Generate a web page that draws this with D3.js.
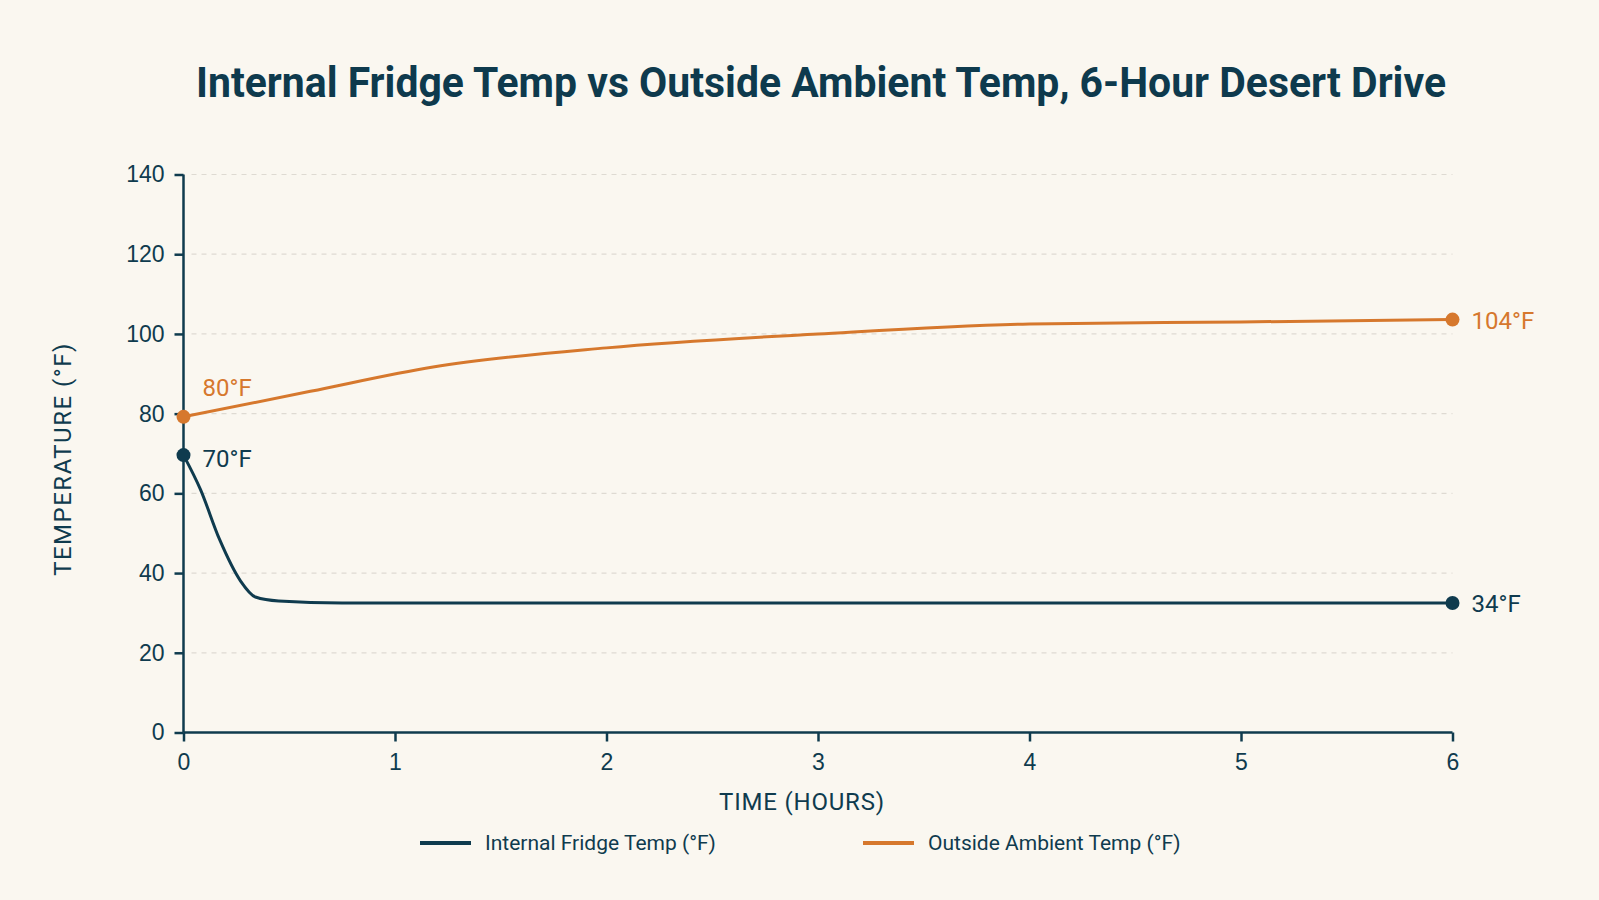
<html>
<head>
<script src="https://d3js.org/d3.v7.min.js"></script>
<style>
  body { margin: 0; background: #faf7f0; }
  svg { font-family: Roboto, "Noto Sans", sans-serif; }
</style>
</head>
<body>
<div id="chart"></div>
<script>
// data
var hours = [0, 1, 2, 3, 4, 5, 6];
var tempTicks = [0, 20, 40, 60, 80, 100, 120, 140];

var fridgeTime = [0, 0.08, 0.17, 0.27, 0.34, 0.45, 0.75, 6];
var fridgeTemp = [69.6, 61, 48.5, 38, 34, 33, 32.5, 32.5];

var ambientTime = [0, 0.6, 1.18, 2, 3, 4, 5, 6];
var ambientTemp = [79.2, 85.6, 91.7, 96.5, 100, 102.5, 103, 103.6];

var seriesNames = ["Internal Fridge Temp (°F)", "Outside Ambient Temp (°F)"];
var startLabels = ["70°F", "80°F"];
var endLabels = ["34°F", "104°F"];
var colors = ["#0f3b4e", "#d6782d"];

var width = 1599, height = 900;
var ink = "#0f3b4e";

var series = [
  {name: seriesNames[0], pts: fridgeTime.map((t, i) => ({t: t, v: fridgeTemp[i]}))},
  {name: seriesNames[1], pts: ambientTime.map((t, i) => ({t: t, v: ambientTemp[i]}))}
];

var x = d3.scaleLinear().domain([0, 6]).range([183.5, 1452.5]);
var y = d3.scaleLinear().domain([0, 140]).range([732.5, 174.5]);

var svg = d3.select("#chart").append("svg")
  .attr("width", width).attr("height", height)
  .style("background", "#faf7f0");

/* title - condensed look by squeezing to the measured width */
svg.append("text")
  .attr("x", 821).attr("y", 97)
  .attr("text-anchor", "middle")
  .attr("textLength", 1250)
  .attr("lengthAdjust", "spacingAndGlyphs")
  .style("font-weight", "bold")
  .style("font-size", "43px")
  .style("fill", "#0e3a4d")
  .text("Internal Fridge Temp vs Outside Ambient Temp, 6-Hour Desert Drive");

/* grid */
svg.append("g")
  .selectAll("line")
  .data(tempTicks.filter(d => d > 0)).enter()
  .append("line")
  .attr("x1", x(0) + 8).attr("x2", x(6))
  .attr("y1", d => y(d)).attr("y2", d => y(d))
  .style("stroke", "#dedad2")
  .style("stroke-width", 1.2)
  .style("stroke-dasharray", "5,5");

/* axes */
var yAxis = d3.axisLeft(y).tickValues(tempTicks).tickSize(9).tickPadding(10);
var xAxis = d3.axisBottom(x).tickValues(hours).tickFormat(d3.format("d")).tickSize(9).tickPadding(12);

var gy = svg.append("g").attr("transform", `translate(${x(0)},0)`).call(yAxis);
var gx = svg.append("g").attr("transform", `translate(0,${y(0)})`).call(xAxis);

[gx, gy].forEach(function(g) {
  g.select(".domain").style("stroke", ink).style("stroke-width", 2.5);
  g.selectAll(".tick line").style("stroke", ink).style("stroke-width", 2.5);
  g.selectAll(".tick text").style("fill", ink).style("font-size", "23px").style("font-weight", 500);
});
gy.select(".domain").attr("d", `M0,${y(0)}V${y(140)}`);
gx.select(".domain").attr("d", `M${x(0)},0H${x(6)}`);

/* axis titles */
svg.append("text")
  .attr("x", 802).attr("y", 810)
  .attr("text-anchor", "middle")
  .style("font-size", "24px")
  .style("letter-spacing", "0.8px")
  .style("fill", ink)
  .text("TIME (HOURS)");

svg.append("text")
  .attr("transform", "translate(71,459) rotate(-90)")
  .attr("text-anchor", "middle")
  .style("font-size", "24px")
  .style("letter-spacing", "1.5px")
  .style("fill", ink)
  .text("TEMPERATURE (°F)");

/* lines */
var line = d3.line()
  .x(d => x(d.t))
  .y(d => y(d.v))
  .curve(d3.curveMonotoneX);

svg.append("g").selectAll("path")
  .data(series).enter()
  .append("path")
  .attr("d", d => line(d.pts))
  .style("fill", "none")
  .style("stroke", (d, i) => colors[i])
  .style("stroke-width", 3);

/* end dots + labels */
series.forEach(function(s, i) {
  var first = s.pts[0], last = s.pts[s.pts.length - 1];
  [first, last].forEach(function(p) {
    svg.append("circle")
      .attr("cx", x(p.t)).attr("cy", y(p.v)).attr("r", 7)
      .style("fill", colors[i]);
  });
  svg.append("text")
    .attr("x", x(first.t) + 19)
    .attr("y", i == 0 ? y(first.v) + 4 : y(first.v) - 29)
    .attr("dy", "0.35em")
    .style("font-size", "24px")
    .style("fill", colors[i])
    .text(startLabels[i]);
  svg.append("text")
    .attr("x", x(last.t) + 19)
    .attr("y", y(last.v) + 1)
    .attr("dy", "0.35em")
    .style("font-size", "24px")
    .style("fill", colors[i])
    .text(endLabels[i]);
});

/* legend */
var legendX = [420, 863];
var legend = svg.selectAll(".legend").data(seriesNames).enter()
  .append("g").attr("class", "legend")
  .attr("transform", (d, i) => `translate(${legendX[i]},843)`);

legend.append("line")
  .attr("x1", 0).attr("x2", 51)
  .style("stroke", (d, i) => colors[i])
  .style("stroke-width", 4);

legend.append("text")
  .attr("x", 65).attr("dy", "0.35em")
  .style("font-size", "21px")
  .style("fill", ink)
  .text(d => d);
</script>
</body>
</html>
